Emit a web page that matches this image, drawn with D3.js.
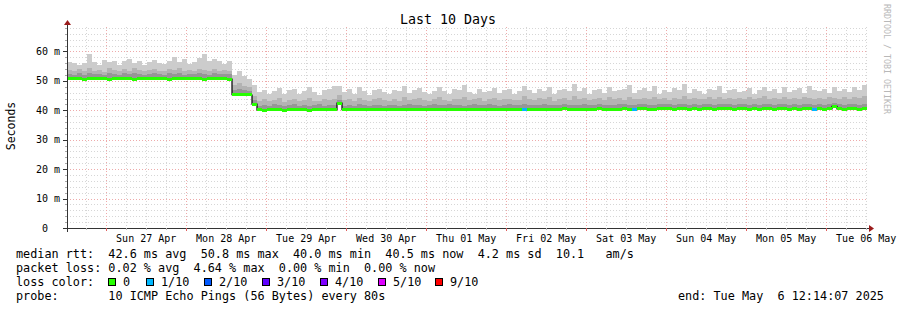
<!DOCTYPE html>
<html><head><meta charset="utf-8">
<script src="https://cdn.jsdelivr.net/npm/d3@7"></script>
<style>body{margin:0;background:#fff}svg{display:block}text{font-family:"DejaVu Sans Mono",monospace;white-space:pre}</style>
</head><body>
<svg id="c" width="897" height="310"></svg>
<script>
// ---------- data (1.5 h bins, 10 days) ----------
const endTime = Date.UTC(2025, 4, 6, 12, 14, 7);
const binHours = 1.5;
const median = [
50.7,50.8,50.7,50.6,50.7,50.8,50.7,50.7,50.6,50.7,50.8,50.7,50.7,50.6,50.7,50.7,50.8,50.7,50.7,50.7,50.6,50.7,50.7,50.8,50.7,50.7,50.7,50.6,50.7,50.7,50.8,50.7,50.6,
45.3,45.4,45.3,45.2,
42.1,
40.1,40.0,40.1,40.2,40.1,40.0,40.1,40.2,40.1,40.1,40.0,40.1,40.2,40.1,40.1,40.2,
42.4,
40.2,40.1,40.2,40.3,40.2,40.2,40.3,40.2,40.1,40.2,
40.3,40.2,40.2,40.3,40.4,40.3,40.2,40.3,40.3,40.2,
40.3,40.4,40.3,40.3,40.2,40.3,40.4,40.3,40.3,40.4,
40.3,40.2,40.3,40.4,40.3,40.3,40.4,40.3,40.3,40.4,
40.4,40.3,40.3,40.4,40.5,40.4,40.3,40.4,40.4,40.3,
40.4,40.5,40.4,40.4,40.3,40.4,40.5,40.4,40.4,40.5,
40.5,40.4,40.4,40.5,40.6,40.5,40.4,40.5,40.5,40.4,
40.5,40.4,40.5,40.5,40.4,40.5,40.6,40.5,40.4,40.5,
40.5,40.4,40.5,40.4,40.5,40.5,40.4,40.5,40.5,40.4,
40.5,40.4,40.5,40.5,40.4,40.5,40.4,40.5,41.3,40.5,
40.4,40.5,40.5,40.4,40.5];
const smokeDark = [
52.3,52.1,52.5,52.0,52.6,52.2,52.4,52.1,52.7,52.3,52.0,52.5,52.2,52.8,52.3,52.1,52.4,52.6,52.2,52.0,52.5,52.3,52.7,52.1,52.4,52.2,52.6,52.3,52.0,52.5,52.2,52.4,52.3,
46.8,47.2,46.9,46.5,
43.5,
41.6,41.9,41.5,42.0,41.7,41.4,41.8,42.1,41.6,41.9,41.5,41.8,42.2,41.6,41.7,41.9,
43.6,
41.6,41.8,41.5,42.0,41.7,41.6,41.9,41.7,41.5,41.8,
41.9,41.6,41.8,42.1,41.9,41.7,41.6,41.8,42.0,41.7,
41.8,42.0,41.7,41.9,41.6,41.8,42.1,41.8,41.7,42.0,
41.8,41.6,41.9,42.0,41.7,41.8,42.2,41.8,41.7,41.9,
42.0,41.8,41.7,41.9,42.1,41.9,41.7,41.9,42.0,41.8,
41.9,42.1,41.8,41.9,41.8,42.0,42.2,41.9,41.8,42.1,
42.0,41.9,41.8,42.0,42.2,42.0,41.8,42.0,42.1,41.9,
42.0,41.8,42.0,42.1,41.9,42.0,42.3,42.0,41.8,42.0,
42.0,41.8,42.1,41.9,42.0,42.1,41.8,42.0,42.1,41.9,
42.0,41.9,42.1,42.2,41.9,42.0,41.9,42.0,42.4,42.0,
41.9,42.0,42.1,41.9,42.0];
const smokeMid = [
53.6,53.2,54.0,53.4,54.3,53.5,53.8,53.1,54.4,53.6,53.3,53.9,53.5,54.2,53.7,53.2,53.8,54.1,53.4,53.3,53.9,53.6,54.5,53.2,53.8,53.5,54.0,53.6,53.3,53.9,53.4,53.7,53.5,
48.6,49.4,48.2,47.8,
45.0,
43.2,43.8,43.0,43.6,44.1,42.9,43.5,43.9,43.1,43.4,44.2,43.3,43.0,43.7,43.5,44.0,
45.2,
43.5,44.0,43.2,44.3,43.6,43.1,43.9,44.2,43.4,43.0,
43.8,43.3,44.4,43.5,43.9,44.1,43.4,43.2,43.7,44.5,
43.6,43.2,44.0,43.7,44.6,43.4,43.8,44.2,43.3,43.9,
44.3,43.5,43.8,44.0,43.4,43.6,44.7,43.9,43.5,44.1,
43.7,44.4,43.3,43.9,44.2,43.6,44.8,43.8,44.3,43.5,
43.9,44.2,43.6,44.5,43.8,44.1,43.5,44.6,43.9,43.7,
44.3,43.8,44.6,43.9,44.1,43.6,44.3,43.8,44.7,43.9,
44.2,43.7,44.0,44.4,43.8,44.6,43.9,44.1,43.7,44.3,
44.0,44.5,43.8,44.2,44.7,43.9,44.1,43.8,44.4,44.0,
44.2,43.9,44.6,44.1,43.8,44.3,44.0,44.5,44.2,43.9,
44.4,44.0,44.6,44.2,44.8];
const smokeMax = [
56.5,56.2,55.4,56.0,59.2,56.4,55.5,57.2,56.3,56.8,55.3,56.9,57.5,56.1,56.6,55.4,56.4,57.0,56.2,55.6,56.7,58.2,56.4,57.3,55.7,56.5,57.8,59.2,56.9,57.4,56.6,55.8,56.9,
52.0,53.2,51.6,50.8,
48.5,
46.2,47.0,45.4,46.5,47.6,45.5,46.8,47.2,45.7,46.6,47.9,46.3,45.3,46.9,47.3,48.2,
48.4,
46.3,47.1,45.6,47.8,46.5,45.3,46.8,47.4,46.2,45.4,
47.0,46.4,48.3,45.8,46.9,47.5,46.2,45.5,46.7,47.9,
46.5,45.6,47.2,46.8,48.6,46.3,45.4,47.4,46.1,46.7,
47.6,45.8,46.8,47.1,45.5,46.5,48.4,46.9,45.9,47.2,
46.6,47.8,45.7,46.9,47.3,46.4,48.9,46.7,47.5,45.6,
46.8,47.4,45.8,47.9,46.5,46.9,47.2,48.6,45.9,46.8,
47.5,46.4,48.1,45.7,47.0,46.2,47.6,46.9,48.8,45.8,
47.1,46.6,45.6,47.4,46.8,48.2,45.9,46.9,47.3,46.1,
46.7,47.5,45.7,46.9,48.0,46.4,47.2,45.8,47.8,46.3,
46.9,47.6,45.9,48.3,47.0,46.5,47.4,45.8,47.9,46.6,
47.2,46.1,47.8,46.9,48.7];
// bins with packet loss (index, lost pings out of 10)
const lossBins = [91, 113, 149];
const lossCounts = [1, 1, 1];
const lossLabels = ["0", "1/10", "2/10", "3/10", "4/10", "5/10", "9/10"];
const lossColors = ["#26ff00", "#00b8ff", "#0059ff", "#5e00ff", "#7e00ff", "#dd00ff", "#ff0000"];
const lossLevel = [0, 1, 2, 3, 4, 5, 9];
const tickDays = ["2025-04-27","2025-04-28","2025-04-29","2025-04-30","2025-05-01","2025-05-02","2025-05-03","2025-05-04","2025-05-05","2025-05-06"];
const tickLabels = ["Sun 27 Apr","Mon 28 Apr","Tue 29 Apr","Wed 30 Apr","Thu 01 May","Fri 02 May","Sat 03 May","Sun 04 May","Mon 05 May","Tue 06 May"];
const yTicks = [0, 10, 20, 30, 40, 50, 60];
const yTickLabels = ["0", "10 m", "20 m", "30 m", "40 m", "50 m", "60 m"];
const statLines = [
  "median rtt:  42.6 ms avg  50.8 ms max  40.0 ms min  40.5 ms now  4.2 ms sd  10.1   am/s",
  "packet loss: 0.02 % avg  4.64 % max  0.00 % min  0.00 % now"
];
const probeLine = "probe:       10 ICMP Echo Pings (56 Bytes) every 80s";
const endLine = "end: Tue May  6 12:14:07 2025";

// ---------- layout ----------
const svg = d3.select("#c");
const L = 67, R = 867, B = 228, T = 27;
const startTime = endTime - 10 * 24 * 3600 * 1000;
const x = d3.scaleUtc().domain([new Date(startTime), new Date(endTime)]).range([L, R]);
const y = d3.scaleLinear().domain([0, 68.3]).range([B, T]);
const binT = i => new Date(startTime + i * binHours * 3600 * 1000);

// grid
const g = svg.append("g");
const minorCol = "#d6d6d6", majorCol = "#eeaaaa";
const minorY = d3.range(2, 69, 2).filter(v => v % 10 !== 0);
g.selectAll(".mgy").data(minorY).join("line")
  .attr("x1", L).attr("x2", R).attr("y1", d => Math.round(y(d)) + 0.5).attr("y2", d => Math.round(y(d)) + 0.5)
  .attr("stroke", minorCol).attr("stroke-dasharray", "1,2");
const minorX = d3.utcHour.every(6).range(new Date(startTime), new Date(endTime)).filter(d => d.getUTCHours() !== 0);
g.selectAll(".mgx").data(minorX).join("line")
  .attr("y1", T).attr("y2", B).attr("x1", d => Math.round(x(d)) + 0.5).attr("x2", d => Math.round(x(d)) + 0.5)
  .attr("stroke", minorCol).attr("stroke-dasharray", "1,2");
g.selectAll(".Mgy").data(yTicks.slice(1)).join("line")
  .attr("x1", L).attr("x2", R).attr("y1", d => Math.round(y(d)) + 0.5).attr("y2", d => Math.round(y(d)) + 0.5)
  .attr("stroke", majorCol).attr("stroke-dasharray", "1,2");
const majorX = d3.utcDay.range(new Date(startTime), new Date(endTime));
g.selectAll(".Mgx").data(majorX).join("line")
  .attr("y1", T).attr("y2", B).attr("x1", d => Math.round(x(d)) + 0.5).attr("x2", d => Math.round(x(d)) + 0.5)
  .attr("stroke", majorCol).attr("stroke-dasharray", "1,2");

// smoke
const idx = d3.range(median.length);
const bx = i => x(binT(i)), bw = i => x(binT(i + 1)) - x(binT(i));
const layers = [[smokeMax, "#cccccc"], [smokeMid, "#b3b3b3"], [smokeDark, "#969696"]];
layers.forEach(([arr, col]) => {
  svg.append("g").selectAll("rect").data(idx).join("rect")
    .attr("x", bx).attr("width", i => bw(i) + 0.3)
    .attr("y", i => y(arr[i])).attr("height", i => y(median[i]) - y(arr[i]))
    .attr("fill", col).attr("shape-rendering", "crispEdges");
});

// median line: black step + loss-coloured band
const pts = [];
idx.forEach(i => { pts.push([bx(i), y(median[i])]); pts.push([bx(i) + bw(i), y(median[i])]); });
svg.append("path").attr("d", d3.line()(pts)).attr("fill", "none").attr("stroke", "#000").attr("stroke-width", 1.2);
const lossOf = i => { const k = lossBins.indexOf(i); return k < 0 ? 0 : lossCounts[k]; };
svg.append("g").selectAll("rect").data(idx).join("rect")
  .attr("x", bx).attr("width", i => bw(i) + 0.3)
  .attr("y", i => y(median[i]) - 1.5).attr("height", 3)
  .attr("fill", i => lossColors[lossLevel.indexOf(lossOf(i))]).attr("shape-rendering", "crispEdges");

// axes
const axCol = "#333", arrow = "#9b1c1c";
svg.append("line").attr("x1", 63).attr("x2", 869).attr("y1", B + 0.5).attr("y2", B + 0.5).attr("stroke", axCol);
svg.append("line").attr("x1", L + 0.5).attr("x2", L + 0.5).attr("y1", B + 4).attr("y2", 24).attr("stroke", axCol);
svg.append("path").attr("d", `M869,${B - 3}L874,${B + 0.5}L869,${B + 4}Z`).attr("fill", arrow);
svg.append("path").attr("d", `M${L - 3},25L${L + 0.5},20L${L + 4},25Z`).attr("fill", arrow);
// y ticks
svg.selectAll(".yt").data(yTicks).join("line")
  .attr("x1", 63).attr("x2", L).attr("y1", d => Math.round(y(d)) + 0.5).attr("y2", d => Math.round(y(d)) + 0.5).attr("stroke", axCol);
svg.selectAll(".ymt").data(minorY).join("line")
  .attr("x1", 65).attr("x2", L).attr("y1", d => Math.round(y(d)) + 0.5).attr("y2", d => Math.round(y(d)) + 0.5).attr("stroke", "#aaa");
svg.selectAll(".ytl").data(yTicks).join("text")
  .attr("x", (d, i) => i === 0 ? 48 : 60).attr("y", d => y(d) + 3.5).attr("text-anchor", "end")
  .attr("font-size", 10).attr("fill", "#000").text((d, i) => yTickLabels[i]);
// x ticks
svg.selectAll(".xt").data(majorX).join("line")
  .attr("x1", d => Math.round(x(d)) + 0.5).attr("x2", d => Math.round(x(d)) + 0.5).attr("y1", B).attr("y2", B + 3).attr("stroke", "#e06060");
svg.selectAll(".xmt").data(minorX).join("line")
  .attr("x1", d => Math.round(x(d)) + 0.5).attr("x2", d => Math.round(x(d)) + 0.5).attr("y1", B).attr("y2", B + 2).attr("stroke", "#bbb");
svg.selectAll(".xtl").data(tickDays).join("text")
  .attr("x", d => x(new Date(d + "T12:00:00Z"))).attr("y", 242).attr("text-anchor", "middle")
  .attr("font-size", 10).attr("fill", "#000").text((d, i) => tickLabels[i]);

// titles
svg.append("text").attr("x", 448).attr("y", 24).attr("text-anchor", "middle").attr("font-size", 13.3).text("Last 10 Days");
svg.append("text").attr("transform", "translate(15,126) rotate(-90)").attr("text-anchor", "middle").attr("font-size", 11.5).text("Seconds");
svg.append("text").attr("transform", "translate(884,4) rotate(90)").attr("font-size", 8.3).attr("fill", "#b8b8b8").text("RRDTOOL / TOBI OETIKER");

// legend
const fs = 11.8;
statLines.forEach((s, i) => svg.append("text").attr("x", 16).attr("y", 258 + i * 14).attr("font-size", fs).text(s));
svg.append("text").attr("x", 16).attr("y", 286).attr("font-size", fs).text("loss color:");
const boxX = [108, 146, 204, 262, 320, 378, 435];
lossLabels.forEach((lab, i) => {
  svg.append("rect").attr("x", boxX[i] + 0.5).attr("y", 278.5).attr("width", 7).attr("height", 7)
    .attr("fill", lossColors[i]).attr("stroke", "#000");
  svg.append("text").attr("x", boxX[i] + 15).attr("y", 286).attr("font-size", fs).text(lab);
});
svg.append("text").attr("x", 16).attr("y", 300).attr("font-size", fs).text(probeLine);
svg.append("text").attr("x", 678).attr("y", 300).attr("font-size", fs).text(endLine);
</script>
</body></html>
